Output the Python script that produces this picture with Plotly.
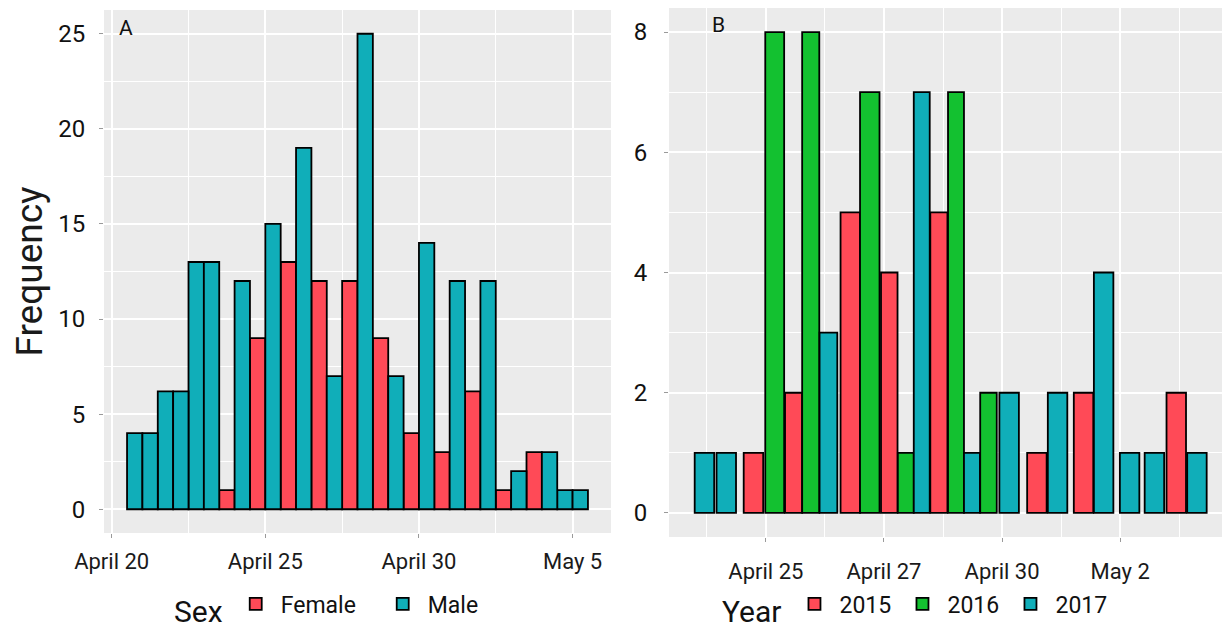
import plotly.graph_objects as go

# ---------------- Data ----------------
# Panel A: daily counts by sex (two dodged bars per day; day number = day of April, May 1 = 31)
a_days = [21, 22, 23, 24, 25, 26, 27, 28, 29, 30, 31, 32, 33, 34, 35]
a_first_sex = ["Male", "Male", "Male", "Female", "Female", "Female", "Female", "Female",
               "Female", "Female", "Female", "Female", "Female", "Female", "Male"]
a_first_val = [4, 6.2, 13, 1, 9, 13, 12, 12, 9, 4, 3, 6.2, 1, 3, 1]
a_second_sex = ["Male"] * 15
a_second_val = [4, 6.2, 13, 12, 15, 19, 7, 25, 7, 14, 12, 12, 2, 3, 1]
a_tick_days = [20, 25, 30, 35]
a_tick_labels = ["April 20", "April 25", "April 30", "May 5"]

# Panel B: counts by year (bar positions read along the axis)
b_days = [23.96, 24.33, 24.79, 25.15, 25.47, 25.76, 26.06, 26.43, 26.76, 27.09, 27.37, 27.64,
          27.93, 28.22, 28.49, 28.77, 29.12, 29.59, 29.94, 30.38, 30.72, 31.16, 31.58, 31.95, 32.30]
b_year = ["2017", "2017", "2015", "2016", "2015", "2016", "2017", "2015", "2016", "2015", "2016", "2017",
          "2015", "2016", "2017", "2016", "2017", "2015", "2017", "2015", "2017", "2017", "2017", "2015", "2017"]
b_val = [1, 1, 1, 8, 2, 8, 3, 5, 7, 4, 1, 7, 5, 7, 1, 2, 2, 1, 2, 2, 4, 1, 1, 2, 1]
b_tick_days = [25, 27, 29, 31]
b_tick_labels = ["April 25", "April 27", "April 30", "May 2"]

# ---------------- Styles ----------------
RED = "#FF4A57"
GREEN = "#13C130"
TEAL = "#10AEB9"
sex_colors = {"Female": RED, "Male": TEAL}
year_colors = {"2015": RED, "2016": GREEN, "2017": TEAL}
FONT = "Roboto"
BG = "#EBEBEB"
OUTLINE = dict(color="black", width=1.8)

fig = go.Figure()

# Panel A traces
slot_w = 0.5
for sex in ["Female", "Male"]:
    xs, ys, offs = [], [], []
    for d, s, v in zip(a_days, a_first_sex, a_first_val):
        if s == sex:
            xs.append(d); ys.append(v); offs.append(-slot_w)
    for d, s, v in zip(a_days, a_second_sex, a_second_val):
        if s == sex:
            xs.append(d); ys.append(v); offs.append(0.0)
    fig.add_trace(go.Bar(
        x=xs, y=ys, offset=offs, width=slot_w, name=sex,
        marker=dict(color=sex_colors[sex], line=OUTLINE),
        xaxis="x", yaxis="y", legend="legend",
    ))

# Panel B traces (bar width limited by neighbour spacing)
max_w = 0.33
b_width = []
for i, c in enumerate(b_days):
    cands = [max_w]
    if i > 0:
        cands.append(c - b_days[i - 1])
    if i < len(b_days) - 1:
        cands.append(b_days[i + 1] - c)
    b_width.append(min(cands))

for yr in ["2015", "2016", "2017"]:
    idx = [i for i, y in enumerate(b_year) if y == yr]
    fig.add_trace(go.Bar(
        x=[b_days[i] for i in idx], y=[b_val[i] for i in idx],
        width=[b_width[i] for i in idx], name=yr,
        marker=dict(color=year_colors[yr], line=OUTLINE),
        xaxis="x2", yaxis="y2", legend="legend2",
    ))

# page body has an 8px margin: size the figure to fill the rest of the window
PAGE_OFF = 8
W, H = 1230 - PAGE_OFF, 632 - PAGE_OFF
def px_x(p):
    return (p - PAGE_OFF) / W
def px_y(p):
    return 1 - (p - PAGE_OFF) / H

axis_common = dict(
    showgrid=True, gridcolor="white", gridwidth=1.6, zeroline=False, automargin=False,
    ticks="outside", ticklen=4, tickcolor="#9a9a9a", tickwidth=1.2,
    showline=False,
)
xtickfont = dict(family=FONT, size=22, color="#1a1a1a")
ytickfont = dict(family=FONT, size=24, color="#111111")

a_minor_x = [(a_tick_days[i] + a_tick_days[i + 1]) / 2 for i in range(len(a_tick_days) - 1)]
b_minor_x = [b_tick_days[0] - 1] + [(b_tick_days[i] + b_tick_days[i + 1]) / 2 for i in range(len(b_tick_days) - 1)] + [b_tick_days[-1] + 1]

fig.update_layout(
    width=W, height=H,
    margin=dict(l=0, r=0, t=0, b=0, autoexpand=False),
    paper_bgcolor="white", plot_bgcolor=BG,
    barmode="overlay",
    font=dict(family=FONT, color="#1a1a1a"),
    xaxis=dict(
        domain=[px_x(104), px_x(611)], range=[19.75, 36.25], anchor="y",
        tickmode="array", tickvals=a_tick_days, ticktext=a_tick_labels, tickfont=xtickfont,
        minor=dict(tickvals=a_minor_x, showgrid=True, gridcolor="white", gridwidth=0.8, ticks=""),
        ticklabelstandoff=5, **axis_common,
    ),
    yaxis=dict(
        domain=[px_y(533), px_y(10)], range=[-1.25, 26.25], anchor="x",
        tickmode="array", tickvals=[0, 5, 10, 15, 20, 25], tickfont=ytickfont,
        minor=dict(tickvals=[2.5, 7.5, 12.5, 17.5, 22.5], showgrid=True, gridcolor="white", gridwidth=0.8, ticks=""),
        title=dict(text="Frequency", font=dict(family=FONT, size=37, color="#1a1a1a"), standoff=6),
        ticklabelstandoff=9, **axis_common,
    ),
    xaxis2=dict(
        domain=[px_x(669), 1.0], range=[23.36, 32.86], anchor="y2",
        tickmode="array", tickvals=b_tick_days, ticktext=b_tick_labels, tickfont=xtickfont,
        minor=dict(tickvals=b_minor_x, showgrid=True, gridcolor="white", gridwidth=0.8, ticks=""),
        ticklabelstandoff=11, **axis_common,
    ),
    yaxis2=dict(
        domain=[px_y(537), px_y(8)], range=[-0.4, 8.4], anchor="x2",
        tickmode="array", tickvals=[0, 2, 4, 6, 8], tickfont=ytickfont,
        minor=dict(tickvals=[1, 3, 5, 7], showgrid=True, gridcolor="white", gridwidth=0.8, ticks=""),
        ticklabelstandoff=12, **axis_common,
    ),
    legend=dict(
        orientation="h", x=px_x(172), xanchor="left", y=px_y(607), yanchor="middle",
        bgcolor="rgba(0,0,0,0)", entrywidth=92, entrywidthmode="pixels", itemwidth=40,
        title=dict(text="Sex", side="left", font=dict(family=FONT, size=30, color="#111")),
        font=dict(family=FONT, size=23, color="#111"),
    ),
    legend2=dict(
        orientation="h", x=px_x(720), xanchor="left", y=px_y(607), yanchor="middle",
        bgcolor="rgba(0,0,0,0)", entrywidth=53, entrywidthmode="pixels", itemwidth=40,
        title=dict(text="Year", side="left", font=dict(family=FONT, size=30, color="#111")),
        font=dict(family=FONT, size=23, color="#111"),
    ),
    annotations=[
        dict(text="A", xref="paper", yref="paper", x=px_x(117), y=px_y(28), xanchor="left", yanchor="middle",
             showarrow=False, font=dict(family=FONT, size=21, color="#111")),
        dict(text="B", xref="paper", yref="paper", x=px_x(710), y=px_y(25), xanchor="left", yanchor="middle",
             showarrow=False, font=dict(family=FONT, size=21, color="#111")),
    ],
)

fig.write_html("out.html")
